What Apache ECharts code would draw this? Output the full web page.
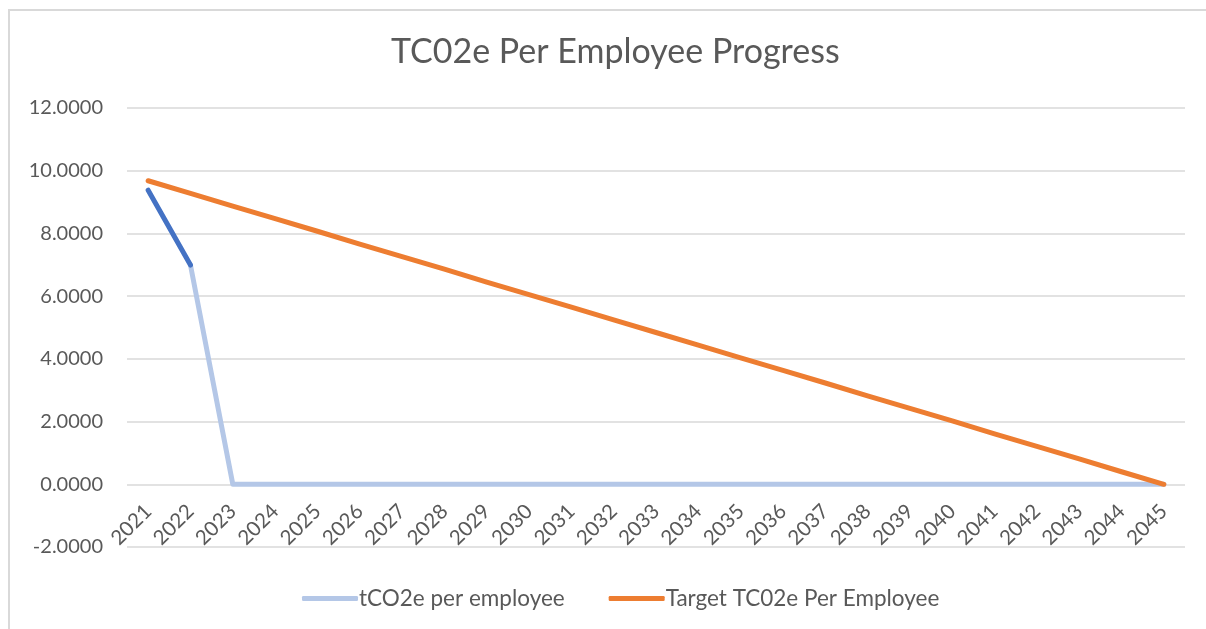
<!DOCTYPE html>
<html>
<head>
<meta charset="utf-8">
<script src="https://cdn.jsdelivr.net/npm/echarts@6/dist/echarts.min.js"></script>
<style>
html,body{margin:0;padding:0;background:#fff;}
#frame{position:absolute;left:8px;top:9px;width:1206px;height:640px;border-left:2px solid #D9D9D9;border-top:2px solid #D9D9D9;box-sizing:border-box;}
#chart{position:absolute;left:0;top:0;width:1206px;height:629px;}
</style>
</head>
<body>
<div id="frame"></div>
<div id="chart"></div>
<script>
const years = ['2021','2022','2023','2024','2025','2026','2027','2028','2029','2030','2031','2032','2033','2034','2035','2036','2037','2038','2039','2040','2041','2042','2043','2044','2045'];
const perEmployee = [9.38, 6.99, 0, 0, 0, 0, 0, 0, 0, 0, 0, 0, 0, 0, 0, 0, 0, 0, 0, 0, 0, 0, 0, 0, 0];
const target = [9.68, 9.28, 8.87, 8.47, 8.07, 7.66, 7.26, 6.86, 6.45, 6.05, 5.65, 5.24, 4.84, 4.44, 4.03, 3.63, 3.23, 2.82, 2.42, 2.02, 1.61, 1.21, 0.81, 0.40, 0];
const yTicks = [-2, 0, 2, 4, 6, 8, 10, 12];

const font = 'Lato, Open Sans, sans-serif';
const chart = echarts.init(document.getElementById('chart'));
chart.setOption({
  animation: false,
  title: {
    text: 'TC02e Per Employee Progress',
    left: 386, top: 30,
    textStyle: {fontFamily: font, fontSize: 34, fontWeight: 'normal', color: '#595959'}
  },
  legend: {
    bottom: 14, left: 297, itemGap: 44, itemWidth: 56, itemHeight: 5,
    data: [
      {name: 'tCO2e per employee', icon: 'roundRect'},
      {name: 'Target TC02e Per Employee', icon: 'roundRect'}
    ],
    textStyle: {fontFamily: font, fontSize: 22.5, color: '#595959', padding: [0,0,0,-4]}
  },
  grid: {left: 127, right: 21, top: 108, bottom: 82, containLabel: false},
  xAxis: {
    type: 'category', data: years, boundaryGap: true,
    offset: -63,
    axisLine: {show: false, onZero: false},
    axisTick: {show: false},
    axisLabel: {rotate: 45, margin: 24, interval: 0, fontFamily: font, fontSize: 20.5, color: '#595959'}
  },
  yAxis: {
    type: 'value', min: yTicks[0], max: yTicks[yTicks.length-1], interval: 2,
    axisLine: {show: false}, axisTick: {show: false},
    splitLine: {lineStyle: {color: '#D9D9D9', width: 1.5}},
    axisLabel: {margin: 24, fontFamily: font, fontSize: 20, color: '#595959', formatter: v => v.toFixed(4)}
  },
  series: [
    {
      name: 'tCO2e per employee', type: 'line', symbol: 'none',
      data: perEmployee.map((v, i) => i >= 1 ? v : '-'),
      lineStyle: {color: '#B4C7E7', width: 5, cap: 'round', join: 'round'},
      itemStyle: {color: '#B4C7E7'}, z: 2
    },
    {
      name: 'highlight', type: 'line', symbol: 'none',
      data: perEmployee.map((v, i) => i <= 1 ? v : '-'),
      lineStyle: {color: '#4472C4', width: 5, cap: 'round', join: 'round'},
      itemStyle: {color: '#4472C4'}, z: 3
    },
    {
      name: 'Target TC02e Per Employee', type: 'line', symbol: 'none',
      data: target,
      lineStyle: {color: '#ED7D31', width: 5, cap: 'round', join: 'round'},
      itemStyle: {color: '#ED7D31'}, z: 4
    }
  ]
});
</script>
</body>
</html>
